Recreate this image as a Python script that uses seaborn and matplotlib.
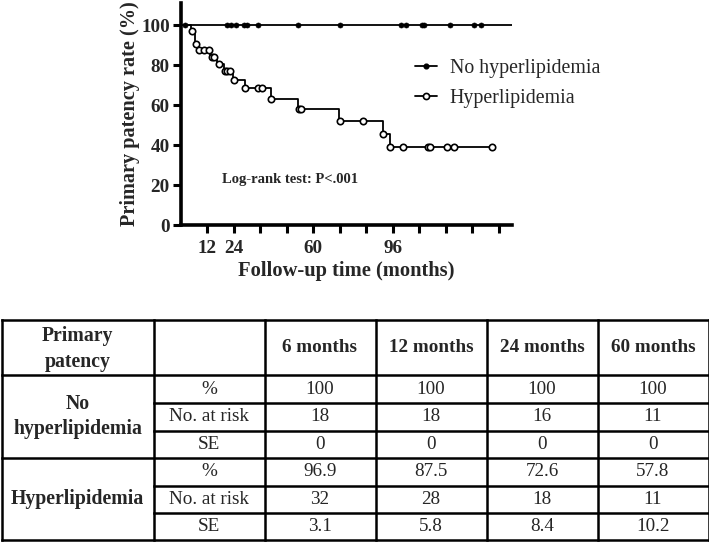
import matplotlib
matplotlib.use("Agg")
import matplotlib.pyplot as plt
from matplotlib.lines import Line2D
import numpy as np
import pandas as pd
import seaborn as sns

# Kaplan-Meier steps (months, primary patency %)
hyper_times = [0, 4.5, 6.5, 7.8, 13.3, 16.2, 19.6, 23.6, 29.2, 40.8, 53.2, 71.8, 91.6, 94.6, 141]
hyper_surv = [100, 96.9, 90.6, 87.5, 84.2, 80.5, 77.0, 72.6, 68.3, 63.0, 57.8, 52.0, 45.5, 39.0, 39.0]
hyper_censor = [5, 6.9, 8, 10.2, 12.9, 14, 15, 17, 20, 21, 22, 24, 29.2, 34.8, 36.9, 41,
                53.4, 54.4, 72, 82.6, 91.7, 94.7, 100.8, 111.8, 112.9, 120.7, 123.7, 140.8]

nohyper_times = [0, 150]
nohyper_surv = [100, 100]
nohyper_censor = [2, 20.7, 22.6, 24.8, 28.6, 29.8, 35, 53, 72, 99.8, 102, 109, 110, 122, 133, 136]

groups = ["No hyperlipidemia", "Hyperlipidemia"]

# table under the plot
col_headers = ["6 months", "12 months", "24 months", "60 months"]
row_stats = ["%", "No. at risk", "SE"]
nohyper_table = [["100", "100", "100", "100"],
                 ["18", "18", "16", "11"],
                 ["0", "0", "0", "0"]]
hyper_table = [["96.9", "87.5", "72.6", "57.8"],
               ["32", "28", "18", "11"],
               ["3.1", "5.8", "8.4", "10.2"]]


def step_value(times, surv, t):
    idx = np.searchsorted(times, t, side="right") - 1
    return surv[idx]


curves = pd.concat([
    pd.DataFrame({"time": nohyper_times, "surv": nohyper_surv, "group": groups[0]}),
    pd.DataFrame({"time": hyper_times, "surv": hyper_surv, "group": groups[1]}),
])
cens_no = pd.DataFrame({"time": nohyper_censor,
                        "surv": [step_value(nohyper_times, nohyper_surv, t) for t in nohyper_censor]})
cens_hy = pd.DataFrame({"time": hyper_censor,
                        "surv": [step_value(hyper_times, hyper_surv, t) for t in hyper_censor]})

sns.set_theme(style="ticks")
plt.rcParams["font.family"] = ["Liberation Serif", "DejaVu Serif"]

W, H = 709, 542
fig = plt.figure(figsize=(W / 100, H / 100), dpi=100)

ax = fig.add_axes([181 / W, 1 - 225 / H, (512 - 181) / W, (225 - 3) / H])

for g in groups:
    sub = curves[curves["group"] == g]
    sns.lineplot(data=sub, x="time", y="surv", drawstyle="steps-post", color="black",
                 linewidth=1.3, ax=ax, legend=False, estimator=None)

sns.scatterplot(data=cens_no, x="time", y="surv", ax=ax, color="black", s=13,
                edgecolor="black", linewidth=0.5, zorder=5)
sns.scatterplot(data=cens_hy, x="time", y="surv", ax=ax, color="white", s=21,
                edgecolor="black", linewidth=1.2, zorder=5)

ax.set_xlim(0, 150)
ax.set_ylim(0, 111)
ax.set_yticks([0, 20, 40, 60, 80, 100])
xt = list(range(12, 145, 12))
ax.set_xticks(xt)
ax.set_xticklabels([str(t) if t in (12, 24, 60, 96) else "" for t in xt])
sns.despine(ax=ax)
for s in ("left", "bottom"):
    ax.spines[s].set_linewidth(2.6)
    ax.spines[s].set_color("black")
ax.tick_params(axis="both", length=6, width=2.2, color="black", labelsize=13.8)
ax.tick_params(axis="x", pad=4.5)
ax.tick_params(axis="y", pad=2)
for lab in ax.get_xticklabels() + ax.get_yticklabels():
    lab.set_fontweight("bold")
ax.set_xlabel("Follow-up time (months)", fontsize=14.8, fontweight="bold", labelpad=3)
ax.set_ylabel("Primary patency rate (%)", fontsize=14.6, fontweight="bold", labelpad=1)

ax.text(49.5, 22.5, "Log-rank test: P<.001", fontsize=10.5, fontweight="bold",
        ha="center", va="center")

handles = [
    Line2D([], [], color="black", lw=1.3, marker="o", markersize=3.4, markerfacecolor="black"),
    Line2D([], [], color="black", lw=1.3, marker="o", markersize=4.4, markerfacecolor="white",
           markeredgewidth=1.2),
]
ax.legend(handles, groups, loc="upper left", bbox_to_anchor=(0.683, 0.782), frameon=False,
          fontsize=14.3, handlelength=1.1, handletextpad=0.65, labelspacing=0.55, borderaxespad=0)

# ---- table ----
tax = fig.add_axes([0, 0, 1, 1])
tax.set_xlim(0, W)
tax.set_ylim(H, 0)
tax.axis("off")

col_w = [151.5, 111, 111, 111, 111, 111]
row_h = [55, 28, 27.5, 27.5, 27.5, 27.5, 27]
x_edges = np.concatenate([[2], 2 + np.cumsum(col_w)])
y_edges = np.concatenate([[320], 320 + np.cumsum(row_h)])
lw = 1.8

for x in x_edges:
    tax.plot([x, x], [y_edges[0], y_edges[-1]], color="black", lw=lw, solid_capstyle="projecting")
for i, y in enumerate(y_edges):
    x0 = x_edges[0] if i in (0, 1, 4, 7) else x_edges[1]
    tax.plot([x0, x_edges[-1]], [y, y], color="black", lw=lw, solid_capstyle="projecting")


def cx(c):
    return (x_edges[c] + x_edges[c + 1]) / 2


def cy(r):
    return (y_edges[r] + y_edges[r + 1]) / 2


tax.text(cx(0), cy(0) + 1.5, "Primary\npatency", ha="center", va="center", fontsize=14.2,
         fontweight="bold", linespacing=1.34)
for j, h in enumerate(col_headers):
    tax.text(cx(j + 2), cy(0), h, ha="center", va="center", fontsize=13.8, fontweight="bold")

tax.text(cx(0), (y_edges[1] + y_edges[4]) / 2, "No\nhyperlipidemia", ha="center", va="center",
         fontsize=14.2, fontweight="bold", linespacing=1.34)
tax.text(cx(0), (y_edges[4] + y_edges[7]) / 2, "Hyperlipidemia", ha="center", va="center",
         fontsize=14.2, fontweight="bold")

for block, start in [(nohyper_table, 1), (hyper_table, 4)]:
    for i, stat in enumerate(row_stats):
        r = start + i
        tax.text(cx(1), cy(r), stat, ha="center", va="center", fontsize=13.8)
        for j, v in enumerate(block[i]):
            tax.text(cx(j + 2), cy(r), v, ha="center", va="center", fontsize=13.8)

fig.savefig("out.png", dpi=100)
